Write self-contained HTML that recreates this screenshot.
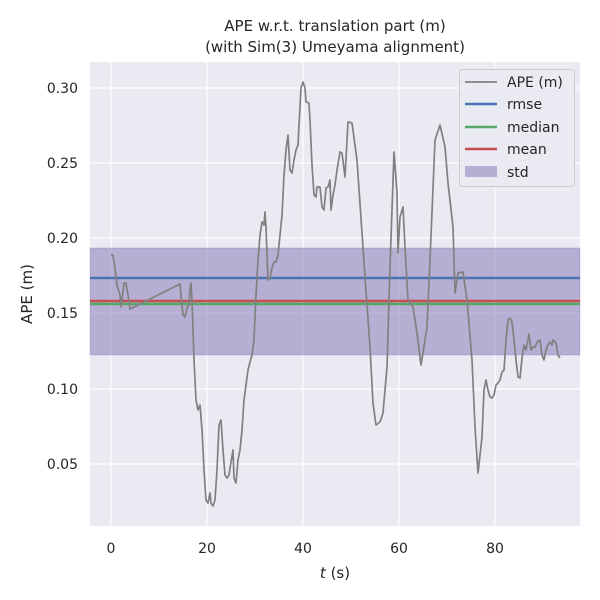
<!DOCTYPE html>
<html><head><meta charset="utf-8"><style>body{margin:0;background:#fff}svg{display:block;font-family:"DejaVu Sans","Liberation Sans",sans-serif}</style></head><body>
<svg width="600" height="600" viewBox="0 0 600 600" xmlns="http://www.w3.org/2000/svg">
<rect width="600" height="600" fill="#fff"/>
<rect x="90" y="62" width="490" height="464" fill="#eaeaf2"/>
<g stroke="#fff" stroke-width="1.2">
<line x1="111" y1="62" x2="111" y2="526"/><line x1="207" y1="62" x2="207" y2="526"/><line x1="303" y1="62" x2="303" y2="526"/><line x1="399" y1="62" x2="399" y2="526"/><line x1="495" y1="62" x2="495" y2="526"/>
<line x1="90" y1="464" x2="580" y2="464"/><line x1="90" y1="389" x2="580" y2="389"/><line x1="90" y1="313" x2="580" y2="313"/><line x1="90" y1="238" x2="580" y2="238"/><line x1="90" y1="163" x2="580" y2="163"/><line x1="90" y1="88" x2="580" y2="88"/>
</g>
<rect x="90" y="248" width="490" height="107" fill="#8172b3" fill-opacity="0.5" stroke="#8172b3" stroke-opacity="0.3"/>
<line x1="90" y1="278" x2="580" y2="278" stroke="#4c72b0" stroke-width="2.5"/>
<line x1="90" y1="304" x2="580" y2="304" stroke="#55a868" stroke-width="2.5"/>
<line x1="90" y1="301" x2="580" y2="301" stroke="#c44e52" stroke-width="2.5"/>
<polyline fill="none" stroke="#808080" stroke-width="1.7" stroke-linejoin="round" points="111,255 113,255 115,268 117,285 120,295 121,307 122,300 124,283 126,283 128,295 130,309 134,307 180,284 181,296 183,315 185,317 187,308 189,305 190,290 191,283 192,300 194,360 196,400 198,410 200,405 202,430 204,470 206,500 208,503 210,493 211,503 213,506 215,500 217,470 219,425 221,420 223,450 225,475 227,478 229,475 231,462 233,450 234,478 236,483 238,460 240,450 242,430 244,400 246,385 248,370 250,362 252,355 254,340 256,295 258,260 260,235 262,222 264,225 265,212 266,228 268,280 270,278 272,268 274,262 276,262 278,255 280,235 282,215 284,175 286,150 288,135 290,170 292,173 294,160 296,150 298,145 299,125 301,88 303,82 305,88 306,102 309,103 310,120 312,165 314,195 316,197 317,187 320,187 322,207 324,210 326,188 328,187 330,180 331,210 333,195 335,185 337,170 340,152 342,153 345,177 348,122 352,123 357,160 362,233 365,277 370,347 373,403 376,425 380,422 383,413 387,367 390,267 394,152 397,193 398,253 400,217 403,207 405,247 408,300 413,307 417,333 421,365 423,353 427,327 430,260 435,140 440,125 445,147 448,183 453,227 455,293 458,273 463,272 467,300 472,360 475,427 478,473 482,437 484,390 486,380 488,390 490,397 492,398 494,395 496,385 498,383 500,380 502,372 504,370 506,340 508,320 510,318 512,322 514,340 516,360 518,377 520,378 522,358 524,345 526,350 528,340 529,334 531,350 533,347 535,347 538,341 540,340 542,355 544,360 546,350 548,345 550,342 552,345 553,340 556,343 558,355 560,358"/>
<g font-size="14" fill="#262626" text-anchor="middle">
<text x="111" y="553">0</text><text x="207" y="553">20</text><text x="303" y="553">40</text><text x="399" y="553">60</text><text x="495" y="553">80</text>
</g>
<g font-size="14" fill="#262626" text-anchor="end">
<text x="78" y="469">0.05</text><text x="78" y="394">0.10</text><text x="78" y="318">0.15</text><text x="78" y="243">0.20</text><text x="78" y="168">0.25</text><text x="78" y="93">0.30</text>
</g>
<text x="335" y="578" font-size="15" fill="#262626" text-anchor="middle"><tspan font-style="italic">t</tspan> (s)</text>
<text transform="translate(32,294) rotate(-90)" font-size="15" fill="#262626" text-anchor="middle">APE (m)</text>
<text x="335" y="31" font-size="15" fill="#262626" text-anchor="middle">APE w.r.t. translation part (m)</text>
<text x="335" y="52" font-size="15" fill="#262626" text-anchor="middle">(with Sim(3) Umeyama alignment)</text>
<rect x="459.5" y="69.5" width="115" height="117" rx="3" fill="#eaeaf2" fill-opacity="0.8" stroke="#ccc"/>
<line x1="465" y1="82" x2="497" y2="82" stroke="#808080" stroke-width="1.7"/>
<line x1="465" y1="104" x2="497" y2="104" stroke="#4c72b0" stroke-width="2.5"/>
<line x1="465" y1="127" x2="497" y2="127" stroke="#55a868" stroke-width="2.5"/>
<line x1="465" y1="149" x2="497" y2="149" stroke="#c44e52" stroke-width="2.5"/>
<rect x="465" y="166" width="32" height="11" fill="#8172b3" fill-opacity="0.5"/>
<g font-size="14" fill="#262626">
<text x="507" y="87">APE (m)</text><text x="507" y="109">rmse</text><text x="507" y="132">median</text><text x="507" y="154">mean</text><text x="507" y="177">std</text>
</g>
</svg>
</body></html>
